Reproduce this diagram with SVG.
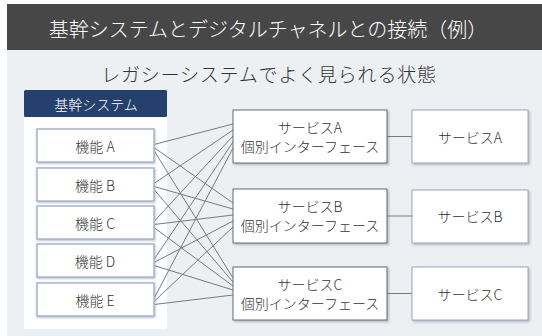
<svg xmlns="http://www.w3.org/2000/svg" width="542" height="336" viewBox="0 0 542 336">
<defs>
<style>
text{font-family:"Noto Sans CJK JP","Noto Sans",sans-serif;fill:#333;font-weight:300;}
.fn{fill:#fff;stroke:#aab4cb;stroke-width:1.5;filter:url(#sb);}
.mid{fill:#fff;stroke:#6a6a6a;stroke-width:1;filter:url(#sg);}
.svc{fill:#fff;stroke:#9aa6bf;stroke-width:1;filter:url(#sg);}
.lbl{font-size:14px;text-anchor:middle;dominant-baseline:central;}
#edges line{stroke:#7a7a7a;stroke-width:1;}
</style>
<filter id="sb" x="-10%" y="-20%" width="120%" height="150%"><feDropShadow dx="0.5" dy="1" stdDeviation="1" flood-color="#7d8bab" flood-opacity="0.6"/></filter>
<filter id="sg" x="-10%" y="-20%" width="120%" height="150%"><feDropShadow dx="1.5" dy="1.5" stdDeviation="1" flood-color="#7a8090" flood-opacity="0.5"/></filter>
</defs>
<rect x="7" y="50" width="535" height="286" fill="#edf0f2"/>
<rect x="7" y="4" width="535" height="46" fill="#474747"/>
<text x="268" y="28" font-size="20" text-anchor="middle" dominant-baseline="central" style="fill:#fff">基幹システムとデジタルチャネルとの接続（例）</text>
<text x="269" y="73" font-size="19" letter-spacing="0.8" text-anchor="middle" dominant-baseline="central">レガシーシステムでよく見られる状態</text>
<g id="core">
<rect x="24" y="90" width="143" height="239" fill="#fff"/>
<rect x="24" y="90" width="143" height="27" rx="1.5" fill="#26406e"/>
<text x="96" y="103.5" class="lbl" style="fill:#fff">基幹システム</text>
</g>
<g id="edges">
<line x1="154" y1="144.5" x2="233" y2="124"/>
<line x1="154" y1="147.5" x2="233" y2="203"/>
<line x1="154" y1="150.5" x2="233" y2="278"/>
<line x1="154" y1="183.5" x2="233" y2="130"/>
<line x1="154" y1="186.5" x2="233" y2="209"/>
<line x1="154" y1="189.5" x2="233" y2="282"/>
<line x1="154" y1="221.5" x2="233" y2="136"/>
<line x1="154" y1="224.5" x2="233" y2="215"/>
<line x1="154" y1="227.5" x2="233" y2="286"/>
<line x1="154" y1="259.5" x2="233" y2="142"/>
<line x1="154" y1="262.5" x2="233" y2="221"/>
<line x1="154" y1="265.5" x2="233" y2="290"/>
<line x1="154" y1="298.5" x2="233" y2="148"/>
<line x1="154" y1="301.5" x2="233" y2="227"/>
<line x1="154" y1="304.5" x2="233" y2="295"/>
<line x1="387" y1="136.5" x2="412" y2="136.5"/>
<line x1="387" y1="216" x2="412" y2="216"/>
<line x1="387" y1="293.5" x2="412" y2="293.5"/>
</g>
<g id="fA"><rect class="fn" x="37" y="129" width="117" height="33"/><text class="lbl" x="95" y="145.5">機能 A</text></g>
<g id="fB"><rect class="fn" x="37" y="168" width="117" height="33"/><text class="lbl" x="95" y="184.5">機能 B</text></g>
<g id="fC"><rect class="fn" x="37" y="206" width="117" height="33"/><text class="lbl" x="95" y="222.5">機能 C</text></g>
<g id="fD"><rect class="fn" x="37" y="244" width="117" height="33"/><text class="lbl" x="95" y="260.5">機能 D</text></g>
<g id="fE"><rect class="fn" x="37" y="283" width="117" height="33"/><text class="lbl" x="95" y="299.5">機能 E</text></g>
<g id="iA"><rect class="mid" x="233" y="110" width="154" height="53"/><text class="lbl" x="310" y="127">サービスA</text><text class="lbl" x="310" y="146">個別インターフェース</text></g>
<g id="iB"><rect class="mid" x="233" y="189" width="154" height="54"/><text class="lbl" x="310" y="206">サービスB</text><text class="lbl" x="310" y="225">個別インターフェース</text></g>
<g id="iC"><rect class="mid" x="233" y="267" width="154" height="53"/><text class="lbl" x="310" y="284">サービスC</text><text class="lbl" x="310" y="303">個別インターフェース</text></g>
<g id="sA"><rect class="svc" x="412" y="110" width="116" height="53"/><text class="lbl" x="470" y="136.5">サービスA</text></g>
<g id="sB"><rect class="svc" x="412" y="190" width="116" height="53"/><text class="lbl" x="470" y="216">サービスB</text></g>
<g id="sC"><rect class="svc" x="412" y="267" width="116" height="53"/><text class="lbl" x="470" y="293.5">サービスC</text></g>
</svg>
